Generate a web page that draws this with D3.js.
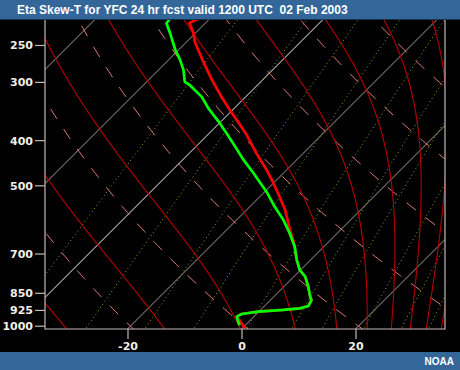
<!DOCTYPE html>
<html><head><meta charset="utf-8">
<script src="https://cdn.jsdelivr.net/npm/d3@7"></script>
<style>html,body{margin:0;padding:0;background:#000;} svg{display:block}</style>
</head><body>
<svg id="chart" width="460" height="370"></svg>
<script>
// ---- data ----
const titleText = "Eta Skew-T for YFC 24 hr fcst valid 1200 UTC  02 Feb 2003";
const creditText = "NOAA";
const pressureTicks = [250, 300, 400, 500, 700, 850, 925, 1000];
const tempTicks = [-20, 0, 20];
const isotherms = [-80, -60, -40, -20, 0, 20];
const dryAdiabatsTheta = [253, 273, 293, 313, 333, 353, 373, 393];   // K
const moistAdiabatsBaseT = [-30, -12.9, 0.3, 9.9, 17.1, 22.4, 26.6, 29.9, 32.7, 35.3, 37.7]; // degC at bottom edge
const mixingRatios = [0.1, 0.4, 1, 2, 4, 7, 10, 16, 24, 32]; // g/kg

const tempP = [219, 224.3, 236, 246, 271.5, 297, 325, 345, 362, 390, 427, 456, 487, 520, 565, 623, 660, 723, 760, 785, 825, 867, 881, 907, 918, 925, 933, 944, 956, 1013];
const tempT = [-61.9, -62.8, -60.3, -58.6, -53.6, -48.9, -43.9, -40.4, -37.5, -33.1, -28.2, -24.4, -20.8, -17.4, -13.2, -8.9, -6.2, -2.4, -0.1, 2.0, 4.3, 6.4, 7.2, 7.7, 6.6, 4.0, -0.1, -2.6, -3.0, 0.5];
const dewP = [219, 224.6, 236, 256, 269, 283, 300, 305, 323, 342, 365, 387, 413, 441, 471, 487, 516, 556, 593, 634, 677, 723, 760, 785, 825, 867, 881, 907, 918, 925, 933, 944, 956, 982, 998];
const dewT = [-67.0, -66.8, -64.4, -60.6, -58.0, -55.6, -53.3, -51.8, -47.7, -44.5, -40.4, -36.9, -33.1, -29.3, -25.2, -23.2, -19.7, -15.6, -11.8, -8.3, -5.1, -2.4, -0.1, 2.0, 4.3, 6.4, 7.2, 7.7, 6.6, 4.0, -0.1, -2.6, -3.0, -1.8, -1.0];

// ---- layout ----
const W = 460, H = 370;
const plot = {left: 45, right: 445, top: 20, bottom: 329};
const svg = d3.select("#chart");
svg.append("rect").attr("width", W).attr("height", H).attr("fill", "#000");

const y = d3.scaleLog().domain([1000, 100]).range([325.7, 325.7 - 202.5 * Math.LN10]);
const x = d3.scaleLinear().domain([-20, 20]).range([127.5, 355.5]);
const skewX = (T, p) => x(T) + (plot.bottom - y(p));
const pBottom = y.invert(plot.bottom + 2);
const pTop = 200;

const defs = svg.append("defs");
defs.append("clipPath").attr("id", "clip").append("rect")
  .attr("x", plot.left).attr("y", plot.top)
  .attr("width", plot.right - plot.left).attr("height", plot.bottom - plot.top);

const g = svg.append("g").attr("clip-path", "url(#clip)");
const line = d3.line().x(d => skewX(d[1], d[0])).y(d => y(d[0]));

function logSamples(p0, p1, n) {
  const a = Math.log(p0), b = Math.log(p1), out = [];
  for (let i = 0; i <= n; i++) out.push(Math.exp(a + (b - a) * i / n));
  return out;
}
const ps = logSamples(pBottom, pTop, 120);

// isotherms
isotherms.forEach(T => {
  g.append("path").attr("d", line([[pBottom, T], [pTop, T]]))
    .attr("stroke", T === -40 ? "#f4f4f4" : "#a89e9e").attr("stroke-width", 1).attr("fill", "none");
});

// mixing ratio lines
function dewFromW(w, p) {
  const e = w * p / (622 + w);
  const l = Math.log(e / 6.112);
  return 243.5 * l / (17.67 - l);
}
mixingRatios.forEach(w => {
  g.append("path").attr("d", line(ps.map(p => [p, dewFromW(w, p)])))
    .attr("stroke", "#a3a300").attr("stroke-width", 1).attr("fill", "none")
    .attr("stroke-dasharray", "1,3");
});

// dry adiabats
dryAdiabatsTheta.forEach(th => {
  g.append("path").attr("d", line(ps.map(p => [p, th * Math.pow(p / 1000, 0.2857) - 273.15])))
    .attr("stroke", "#e47c7c").attr("stroke-width", 1).attr("fill", "none")
    .attr("stroke-dasharray", "12,12");
});

// moist adiabats
const Rd = 287.04, Cp = 1005.7, Lv = 2.501e6, eps = 0.622;
function moistRate(T, lp) {
  const p = Math.exp(lp), Tc = T - 273.15;
  const es = 6.112 * Math.exp(17.67 * Tc / (Tc + 243.5));
  const rs = eps * es / (p - es);
  return (Rd * T + Lv * rs) / (Cp + Lv * Lv * rs * eps / (Rd * T * T));
}
function moistLine(T0) {
  let T = T0 + 273.15, lp = Math.log(pBottom);
  const n = 200, h = (Math.log(pTop) - lp) / n, pts = [[pBottom, T0]];
  for (let i = 0; i < n; i++) {
    const k1 = moistRate(T, lp);
    const k2 = moistRate(T + h * k1 / 2, lp + h / 2);
    const k3 = moistRate(T + h * k2 / 2, lp + h / 2);
    const k4 = moistRate(T + h * k3, lp + h);
    T += h * (k1 + 2 * k2 + 2 * k3 + k4) / 6;
    lp += h;
    pts.push([Math.exp(lp), T - 273.15]);
  }
  return pts;
}
moistAdiabatsBaseT.forEach(T0 => {
  g.append("path").attr("d", line(moistLine(T0)))
    .attr("stroke", "#b80000").attr("stroke-width", 1.1).attr("fill", "none");
});

// profiles
const tempData = tempP.map((p, i) => [p, tempT[i]]);
const dewData = dewP.map((p, i) => [p, dewT[i]]);
g.append("path").attr("d", line(tempData)).attr("stroke", "#ff0000")
  .attr("stroke-width", 2.7).attr("fill", "none").attr("stroke-linejoin", "round");
g.append("path").attr("d", line(dewData)).attr("stroke", "#00ff00")
  .attr("stroke-width", 2.7).attr("fill", "none").attr("stroke-linejoin", "round");

// frame
const frameColor = "#c2b8b8";
svg.append("line").attr("x1", plot.left).attr("x2", plot.left).attr("y1", plot.top).attr("y2", plot.bottom + 0.5)
  .attr("stroke", frameColor).attr("stroke-width", 1.2);
svg.append("line").attr("x1", plot.right).attr("x2", plot.right).attr("y1", plot.top).attr("y2", plot.bottom + 0.5)
  .attr("stroke", frameColor).attr("stroke-width", 1.2);
svg.append("line").attr("x1", plot.left).attr("x2", plot.right).attr("y1", plot.bottom).attr("y2", plot.bottom)
  .attr("stroke", frameColor).attr("stroke-width", 1.2);

// axes
const font = "'DejaVu Sans', Verdana, sans-serif";
const yAxis = svg.append("g").attr("transform", `translate(${plot.left},0)`)
  .call(d3.axisLeft(y).tickValues(pressureTicks).tickSize(10).tickPadding(2).tickFormat(d => String(d)));
const xAxis = svg.append("g").attr("transform", `translate(0,${plot.bottom})`)
  .call(d3.axisBottom(x).tickValues(tempTicks).tickSize(10).tickPadding(3).tickFormat(d => String(d)));
[yAxis, xAxis].forEach(ax => {
  ax.select(".domain").remove();
  ax.selectAll(".tick line").attr("stroke", frameColor).attr("stroke-width", 1.2);
  ax.selectAll(".tick text").attr("fill", "#f2eee6").attr("font-family", font)
    .attr("font-size", 11).attr("font-weight", "bold");
});
yAxis.selectAll(".tick text").attr("dy", "0.36em");

// title & footer bars
svg.append("rect").attr("x", 0).attr("y", 0).attr("width", W).attr("height", 19.5).attr("fill", "#336699");
svg.append("rect").attr("x", 0).attr("y", 352).attr("width", W).attr("height", 18).attr("fill", "#336699");
svg.append("text").attr("x", 17).attr("y", 14.3).text(titleText)
  .attr("fill", "#fff").attr("font-family", "'Liberation Sans', Arial, sans-serif")
  .attr("font-size", 12).attr("font-weight", "bold").style("white-space", "pre");
svg.append("text").attr("x", 454).attr("y", 365).attr("text-anchor", "end").text(creditText)
  .attr("fill", "#fff").attr("font-family", "'Liberation Sans', Arial, sans-serif")
  .attr("font-size", 10).attr("font-weight", "bold");
</script>
</body></html>
